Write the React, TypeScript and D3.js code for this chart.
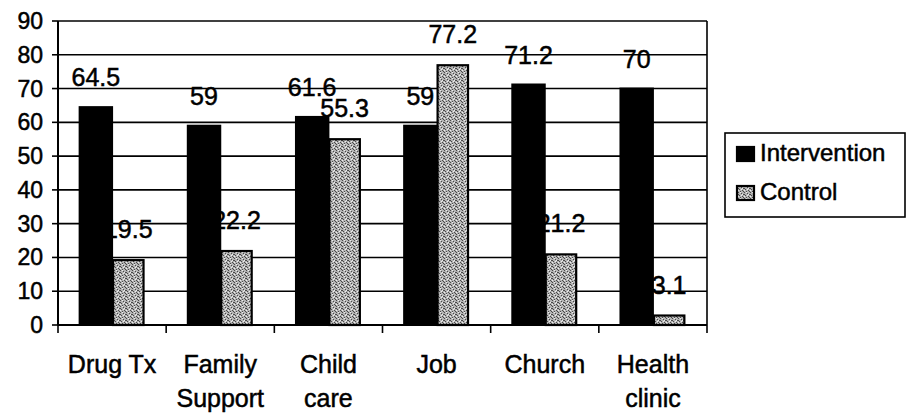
import { useRef, useEffect } from 'react';
import * as d3 from 'd3';

const categories = ['Drug Tx', 'Family Support', 'Child care', 'Job', 'Church', 'Health clinic'];
const categoryLines = [['Drug Tx'], ['Family', 'Support'], ['Child', 'care'], ['Job'], ['Church'], ['Health', 'clinic']];
const seriesNames = ['Intervention', 'Control'];
const intervention = [64.5, 59, 61.6, 59, 71.2, 70];
const control = [19.5, 22.2, 55.3, 77.2, 21.2, 3.1];
const yTicks = [0, 10, 20, 30, 40, 50, 60, 70, 80, 90];

const W = 911;
const H = 416;
const PLOT = { left: 58, right: 707, top: 21, bottom: 325 };
const FONT = "'Liberation Sans', Arial, sans-serif";

export default function App() {
  const svgRef = useRef<SVGSVGElement>(null);

  useEffect(() => {
    if (!svgRef.current) return;
    const svg = d3.select(svgRef.current);
    svg.selectAll('*').remove();

    // stippled grey for the control bars
    const defs = svg.append('defs');
    const pat = defs.append('pattern')
      .attr('id', 'stipple')
      .attr('width', 6)
      .attr('height', 6)
      .attr('patternUnits', 'userSpaceOnUse');
    pat.append('rect').attr('width', 6).attr('height', 6).attr('fill', '#b4b4b4');
    [[0, 0], [3, 1], [1, 3], [4, 4], [5, 2], [2, 5], [5, 5], [0, 2]].forEach(([px, py]) => {
      pat.append('rect').attr('x', px).attr('y', py).attr('width', 1).attr('height', 1).attr('fill', '#4a4a4a');
    });
    [[2, 0], [0, 4], [4, 2], [3, 3]].forEach(([px, py]) => {
      pat.append('rect').attr('x', px).attr('y', py).attr('width', 1).attr('height', 1).attr('fill', '#eeeeee');
    });

    const x0 = d3.scaleBand<string>()
      .domain(categories)
      .range([PLOT.left, PLOT.right])
      .paddingInner(0)
      .paddingOuter(0);
    const groupW = x0.bandwidth() * 0.6;
    const x1 = d3.scaleBand<string>()
      .domain(seriesNames)
      .range([0, groupW]);
    const y = d3.scaleLinear().domain([0, 90]).range([PLOT.bottom, PLOT.top]);

    const rows = categories.map((c, i) => ({ c, values: [intervention[i], control[i]] }));
    const textStyle = (sel: d3.Selection<SVGTextElement, unknown, null, undefined>, size: number) =>
      sel.attr('font-family', FONT)
        .attr('font-size', `${size}px`)
        .attr('fill', '#000')
        .attr('stroke', '#000')
        .attr('stroke-width', 0.5);

    // value labels (drawn first: gridlines and bars sit over them)
    const labels = svg.append('g');
    rows.forEach((r) => {
      r.values.forEach((v, j) => {
        const bx = (x0(r.c) as number) + (x0.bandwidth() - groupW) / 2 + (x1(seriesNames[j]) as number);
        labels.append('text')
          .attr('x', bx + x1.bandwidth() / 2)
          .attr('y', y(v) - 21)
          .attr('text-anchor', 'middle')
          .call(textStyle, 25)
          .text(`${v}`);
      });
    });

    // gridlines
    svg.append('g')
      .selectAll('line')
      .data(yTicks.filter((t) => t > 0))
      .join('line')
      .attr('x1', PLOT.left)
      .attr('x2', PLOT.right)
      .attr('y1', (d) => y(d))
      .attr('y2', (d) => y(d))
      .attr('stroke', '#000')
      .attr('stroke-width', 1.6);

    // right border
    svg.append('line')
      .attr('x1', PLOT.right).attr('x2', PLOT.right)
      .attr('y1', PLOT.top).attr('y2', PLOT.bottom)
      .attr('stroke', '#000').attr('stroke-width', 1.6);

    // bars
    const bars = svg.append('g');
    rows.forEach((r) => {
      const gx = (x0(r.c) as number) + (x0.bandwidth() - groupW) / 2;
      bars.append('rect')
        .attr('x', gx + (x1('Intervention') as number))
        .attr('y', y(r.values[0]))
        .attr('width', x1.bandwidth())
        .attr('height', y(0) - y(r.values[0]))
        .attr('fill', '#000')
        .attr('stroke', '#000')
        .attr('stroke-width', 2);
      bars.append('rect')
        .attr('x', gx + (x1('Control') as number) + 1)
        .attr('y', y(r.values[1]) + 1)
        .attr('width', x1.bandwidth() - 2)
        .attr('height', y(0) - y(r.values[1]) - 1)
        .attr('fill', 'url(#stipple)')
        .attr('stroke', '#000')
        .attr('stroke-width', 2.2);
    });

    // y axis
    const yAxis = svg.append('g');
    yAxis.append('line')
      .attr('x1', PLOT.left).attr('x2', PLOT.left)
      .attr('y1', PLOT.top).attr('y2', PLOT.bottom)
      .attr('stroke', '#000').attr('stroke-width', 2);
    yTicks.forEach((t) => {
      yAxis.append('line')
        .attr('x1', PLOT.left - 6).attr('x2', PLOT.left)
        .attr('y1', y(t)).attr('y2', y(t))
        .attr('stroke', '#000').attr('stroke-width', 1.6);
      yAxis.append('text')
        .attr('x', 43)
        .attr('y', y(t) + 8)
        .attr('text-anchor', 'end')
        .call(textStyle, 23)
        .text(`${t}`);
    });

    // x axis
    const xAxis = svg.append('g');
    xAxis.append('line')
      .attr('x1', PLOT.left).attr('x2', PLOT.right)
      .attr('y1', y(0)).attr('y2', y(0))
      .attr('stroke', '#000').attr('stroke-width', 2);
    d3.range(categories.length + 1).forEach((i) => {
      const tx = PLOT.left + i * x0.bandwidth();
      xAxis.append('line')
        .attr('x1', tx).attr('x2', tx)
        .attr('y1', y(0)).attr('y2', y(0) + 8)
        .attr('stroke', '#000').attr('stroke-width', 1.6);
    });
    categories.forEach((c, i) => {
      const t = xAxis.append('text')
        .attr('text-anchor', 'middle')
        .call(textStyle, 25);
      categoryLines[i].forEach((line, k) => {
        t.append('tspan')
          .attr('x', (x0(c) as number) + x0.bandwidth() / 2)
          .attr('y', 373 + k * 34)
          .text(line);
      });
    });

    // legend
    const lg = svg.append('g');
    lg.append('rect')
      .attr('x', 725).attr('y', 133)
      .attr('width', 180).attr('height', 84)
      .attr('fill', '#fff')
      .attr('stroke', '#000').attr('stroke-width', 1.6);
    seriesNames.forEach((s, i) => {
      const ly = 146 + i * 39;
      lg.append('rect')
        .attr('x', 737).attr('y', ly + 1)
        .attr('width', 17).attr('height', 14)
        .attr('fill', i === 0 ? '#000' : 'url(#stipple)')
        .attr('stroke', '#000').attr('stroke-width', 2.2);
      lg.append('text')
        .attr('x', 760).attr('y', ly + 15)
        .call(textStyle, 24)
        .text(s);
    });
  }, []);

  return (
    <svg
      ref={svgRef}
      width={W}
      height={H}
      style={{ position: 'absolute', left: 0, top: 0, background: '#fff' }}
    />
  );
}
